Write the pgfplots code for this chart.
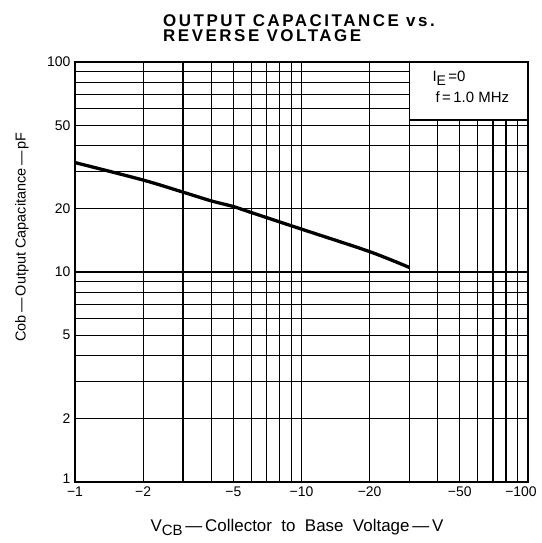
\documentclass[border=0pt]{standalone}
\usepackage{fontspec}
\setmainfont{Liberation Sans}
\usepackage{pgfplots}
\pgfplotsset{compat=1.18}
\begin{document}
\begin{tikzpicture}
\path[use as bounding box] (-75bp,-61bp) rectangle (467bp,482bp);
\begin{axis}[at={(0bp,0bp)}, anchor=south west, scale only axis,
  width=453bp, height=420bp,
  xmode=log, ymode=log, xmin=1, xmax=100, ymin=1, ymax=100,
  xtick={1,2,3,4,5,6,7,8,9,10,20,30,40,50,60,70,80,90,100},
  xticklabels={−1,−2,,,−5,,,,,−10,−20,,,−50,,,,,{\hspace*{-14bp}−100}},
  ytick={1,2,3,4,5,6,7,8,9,10,20,30,40,50,60,70,80,90,100},
  yticklabels={{\raisebox{6bp}{1}},2,,,5,,,,,10,20,,,50,,,,,100},
  grid=major, major grid style={black, line width=1.2bp},
  axis line style={line width=1.9bp},
  major tick length=0pt, minor tick length=0pt,
  tick label style={font=\fontsize{14}{14}\selectfont},
  xticklabel style={yshift=-1bp},
  yticklabel style={xshift=-1bp},
]
\addplot[black, line width=3.3bp, smooth] coordinates {
 (1,33.2) (2,27.4) (3,24.0) (4,21.8) (5,20.5) (6,19.2) (10,16.0) (20,12.5) (30,10.5)
};
\draw[fill=white, line width=1.5bp] (axis cs:30,100) rectangle (axis cs:100,53);
\end{axis}
\node[anchor=base west, font=\fontsize{15}{15}\selectfont] at (354bp,400bp) {I\raisebox{-0.45ex}{\fontsize{14}{14}\selectfont E}\,=0};
\node[anchor=base west, font=\fontsize{15}{15}\selectfont] at (357bp,379bp) {f\,=\,1.0 MHz};
\node[anchor=north west, inner sep=0pt, align=left, font=\bfseries\fontsize{17}{15.5}\selectfont\addfontfeatures{LetterSpace=15}] at (88bp,468bp) {OUTPUT CAPACITANCE vs.\\REVERSE VOLTAGE};
\node[rotate=90, font=\fontsize{14.5}{14.5}\selectfont] at (-53bp,245bp) {Cob\,—\,Output Capacitance\,—\,pF};
\node[font=\fontsize{17}{17}\selectfont] at (222bp,-45bp) {V\raisebox{-0.45ex}{\fontsize{15}{15}\selectfont CB}\,—\,Collector\ \ to\ \ Base\ \ Voltage\,—\,V};
\end{tikzpicture}
\end{document}
